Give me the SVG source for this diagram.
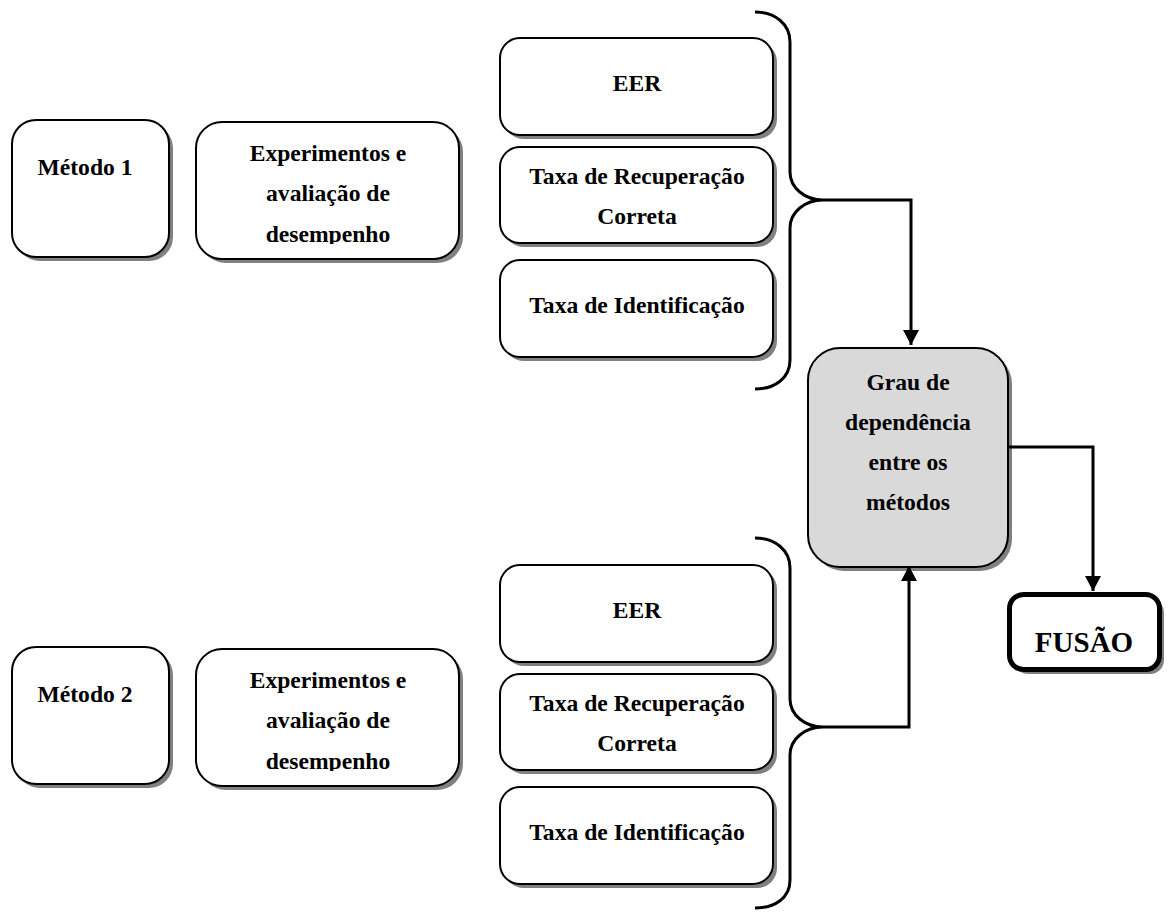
<svg xmlns="http://www.w3.org/2000/svg" width="1168" height="912" viewBox="0 0 1168 912">
  <defs>
    <style>
      .box { fill: #ffffff; stroke: #000000; stroke-width: 2; }
      .shadow { fill: #808080; stroke: none; }
      .grey { fill: #d9d9d9; stroke: #000000; stroke-width: 2; }
      .thick { fill: #ffffff; stroke: #000000; stroke-width: 5; }
      .label { font-family: "Liberation Serif", "Times New Roman", serif; font-weight: bold; font-size: 23.6px; fill: #000000; text-anchor: middle; }
      .big { font-size: 29px; }
      .brace { fill: none; stroke: #000000; stroke-width: 3; }
      .link { fill: none; stroke: #000000; stroke-width: 3; }
    </style>
    <marker id="arrow" markerUnits="userSpaceOnUse" markerWidth="16" markerHeight="16" refX="15" refY="8" orient="auto">
      <path d="M0,0 L15,8 L0,16 Z" fill="#000000"/>
    </marker>
    <clipPath id="clipExp1"><rect x="196" y="122" width="263" height="122"/></clipPath>
    <clipPath id="clipExp2"><rect x="196" y="649" width="263" height="122"/></clipPath>
  </defs>

  <rect width="1168" height="912" fill="#ffffff"/>

  <!-- first method -->
  <g id="metodo1">
    <rect class="shadow" x="16" y="124" width="157" height="137" rx="24"/>
    <rect class="box" x="12" y="120" width="157" height="137" rx="24"/>
    <text class="label" x="85" y="175">Método 1</text>
  </g>
  <g id="experimentos1">
    <rect class="shadow" x="200" y="126" width="263" height="137" rx="26"/>
    <rect class="box" x="196" y="122" width="263" height="137" rx="26"/>
    <g clip-path="url(#clipExp1)">
      <text class="label" x="328" y="161">Experimentos e</text>
      <text class="label" x="328" y="201">avaliação de</text>
      <text class="label" x="328" y="242">desempenho</text>
    </g>
  </g>
  <g id="eer1">
    <rect class="shadow" x="504" y="42" width="273" height="97" rx="20"/>
    <rect class="box" x="500" y="38" width="273" height="97" rx="20"/>
    <text class="label" x="637" y="91">EER</text>
  </g>
  <g id="recuperacao1">
    <rect class="shadow" x="504" y="151" width="273" height="96" rx="20"/>
    <rect class="box" x="500" y="147" width="273" height="96" rx="20"/>
    <text class="label" x="637" y="184">Taxa de Recuperação</text>
    <text class="label" x="637" y="224">Correta</text>
  </g>
  <g id="identificacao1">
    <rect class="shadow" x="504" y="264" width="273" height="97" rx="20"/>
    <rect class="box" x="500" y="260" width="273" height="97" rx="20"/>
    <text class="label" x="637" y="313">Taxa de Identificação</text>
  </g>

  <!-- second method -->
  <g id="metodo2">
    <rect class="shadow" x="16" y="651" width="157" height="137" rx="24"/>
    <rect class="box" x="12" y="647" width="157" height="137" rx="24"/>
    <text class="label" x="85" y="702">Método 2</text>
  </g>
  <g id="experimentos2">
    <rect class="shadow" x="200" y="653" width="263" height="137" rx="26"/>
    <rect class="box" x="196" y="649" width="263" height="137" rx="26"/>
    <g clip-path="url(#clipExp2)">
      <text class="label" x="328" y="688">Experimentos e</text>
      <text class="label" x="328" y="728">avaliação de</text>
      <text class="label" x="328" y="769">desempenho</text>
    </g>
  </g>
  <g id="eer2">
    <rect class="shadow" x="504" y="569" width="273" height="97" rx="20"/>
    <rect class="box" x="500" y="565" width="273" height="97" rx="20"/>
    <text class="label" x="637" y="618">EER</text>
  </g>
  <g id="recuperacao2">
    <rect class="shadow" x="504" y="678" width="273" height="96" rx="20"/>
    <rect class="box" x="500" y="674" width="273" height="96" rx="20"/>
    <text class="label" x="637" y="711">Taxa de Recuperação</text>
    <text class="label" x="637" y="751">Correta</text>
  </g>
  <g id="identificacao2">
    <rect class="shadow" x="504" y="791" width="273" height="97" rx="20"/>
    <rect class="box" x="500" y="787" width="273" height="97" rx="20"/>
    <text class="label" x="637" y="840">Taxa de Identificação</text>
  </g>

  <!-- dependence between methods -->
  <g id="grau">
    <rect class="shadow" x="812" y="352" width="200" height="219" rx="32"/>
    <rect class="grey" x="808" y="348" width="200" height="219" rx="32"/>
    <text class="label" x="908" y="390">Grau de</text>
    <text class="label" x="908" y="430">dependência</text>
    <text class="label" x="908" y="470">entre os</text>
    <text class="label" x="908" y="510">métodos</text>
  </g>

  <!-- fusion -->
  <g id="fusao">
    <rect class="shadow" x="1014" y="599" width="150" height="75" rx="14"/>
    <rect class="thick" x="1009.5" y="594.5" width="150" height="75" rx="14"/>
    <text class="label big" x="1084" y="652">FUSÃO</text>
  </g>

  <!-- braces and connectors -->
  <g id="connectors">
    <path class="brace" d="M755,12 C775,12 790,24 790,42 L790,172 C790,188 805,200 823,200 C805,200 790,212 790,228 L790,360 C790,378 775,389 755,389"/>
    <path class="brace" d="M755,538 C775,538 790,550 790,568 L790,699 C790,715 805,727 823,727 C805,727 790,739 790,755 L790,880 C790,898 775,908 755,908"/>
    <path class="link" d="M823,200 L911,200 L911,345" marker-end="url(#arrow)"/>
    <path class="link" d="M823,727 L909,727 L909,566" marker-end="url(#arrow)"/>
    <path class="link" d="M1008,447 L1093,447 L1093,591" marker-end="url(#arrow)"/>
  </g>
</svg>
